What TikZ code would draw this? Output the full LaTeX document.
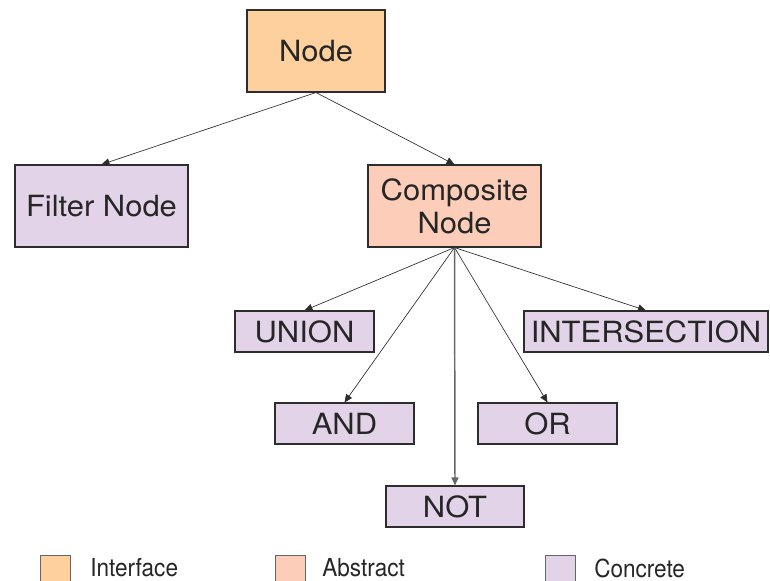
\documentclass[tikz,border=0pt]{standalone}
\usepackage{fontspec}
\setmainfont{TeX Gyre Heros}
\newfontfamily\boxfont[FakeStretch=1.06]{TeX Gyre Heros}
\newfontfamily\legfont[FakeStretch=0.91]{TeX Gyre Heros}
\usetikzlibrary{arrows.meta}
\definecolor{ifc}{RGB}{254,208,158}
\definecolor{abs}{RGB}{252,206,186}
\definecolor{con}{RGB}{227,211,232}
\definecolor{edge}{RGB}{45,45,45}
\def\px{0.75pt}
\tikzset{
  box/.style={draw=edge, line width=0.8pt, inner sep=0pt, align=center,
    text=black!85, font=\boxfont\fontsize{21.9pt}{24.75pt}\selectfont},
  big/.style={box, minimum height=82*\px},
  small/.style={box, minimum height=41*\px},
  conn/.style={draw=edge, line width=0.5pt, -{Triangle[length=8*\px,width=7*\px]}},
  vconn/.style={draw=black!60, line width=1.1pt, -{Triangle[length=8*\px,width=7*\px]}},
  legbox/.style={draw=black!60, line width=0.6pt, minimum width=30*\px, minimum height=30*\px, inner sep=0pt},
  legtext/.style={anchor=west, inner sep=0pt, text=black!85, font=\legfont\fontsize{18.6pt}{20pt}\selectfont}
}
\begin{document}
\begin{tikzpicture}[x=0.75pt,y=-0.75pt]
\useasboundingbox (0,0) rectangle (770,581);
\clip (0,0) rectangle (770,581);
% nodes
\node[big, fill=ifc, minimum width=138*\px] (node) at (316,51) {Node};
\node[big, fill=con, minimum width=173*\px] (filter) at (101.5,206) {Filter Node};
\node[big, fill=abs, minimum width=173*\px] (comp) at (454.5,206) {Composite\\Node};
\node[small, fill=con, minimum width=139*\px] (union) at (304.5,331.5) {UNION};
\node[small, fill=con, minimum width=244*\px] (inter) at (646,331.5) {INTERSECTION};
\node[small, fill=con, minimum width=139*\px] (and) at (344.5,423.5) {AND};
\node[small, fill=con, minimum width=139*\px] (or) at (547.5,423.5) {OR};
\node[small, fill=con, minimum width=138*\px] (not) at (455,506.5) {NOT};
% connectors
\draw[conn] (node.south) -- (filter.north);
\draw[conn] (node.south) -- (comp.north);
\draw[conn] (comp.south) -- (union.north);
\draw[conn] (comp.south) -- (inter.north);
\draw[conn] (comp.south) -- (and.north);
\draw[conn] (comp.south) -- (or.north);
\draw[vconn] (comp.south) -- (not.north);
% legend
\node[legbox, fill=ifc] (lg1) at (55,570) {};
\node[legtext] (lt1) at (90,568) {Interface};
\node[legbox, fill=abs] (lg2) at (290,570) {};
\node[legtext] (lt2) at (322,568) {Abstract};
\node[legbox, fill=con] (lg3) at (560,570) {};
\node[legtext] (lt3) at (594,568) {Concrete};
\end{tikzpicture}
\end{document}
